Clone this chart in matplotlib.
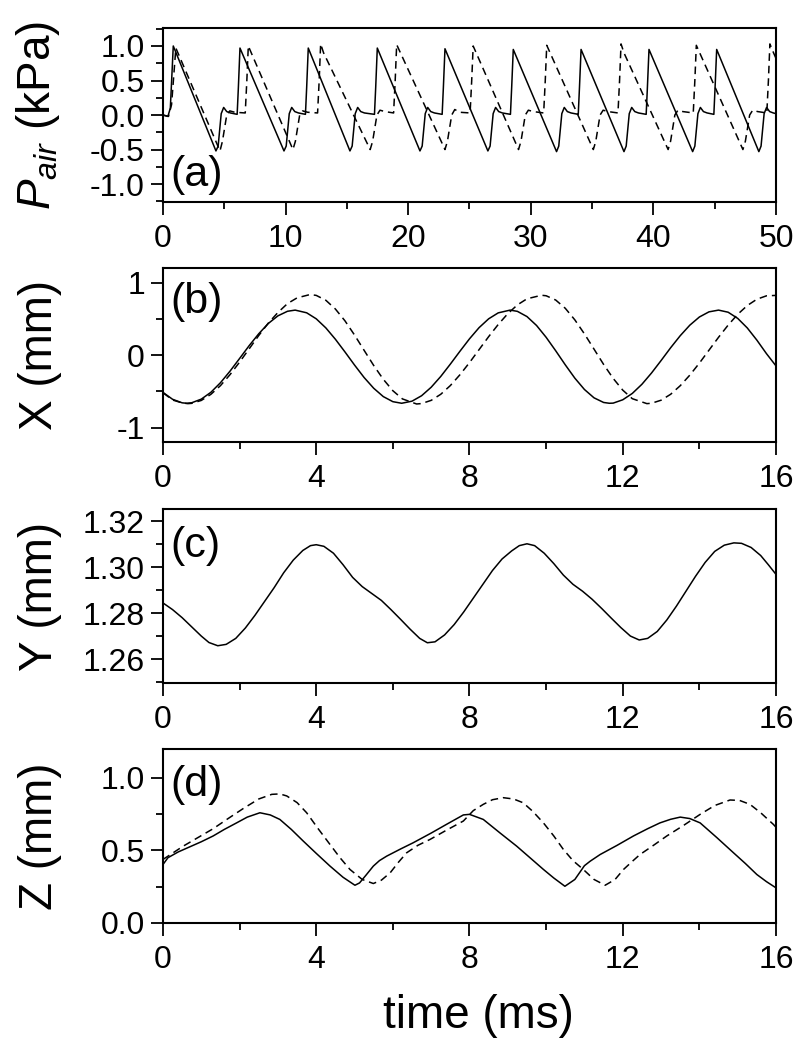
import numpy as np
import matplotlib
matplotlib.use("Agg")
import matplotlib.pyplot as plt
from matplotlib.ticker import MultipleLocator

plt.rcParams['font.family'] = ['Liberation Sans', 'DejaVu Sans']
plt.rcParams['mathtext.fontset'] = 'custom'
plt.rcParams['mathtext.rm'] = 'Liberation Sans'
plt.rcParams['mathtext.it'] = 'Liberation Sans:italic'

# ---- panel (a): air pressure, 0-50 ms ----
pa_t_solid = [0.0, 0.4, 0.6, 0.84,
              4.32, 4.50, 4.75, 4.95, 5.20, 5.50, 6.05, 6.15, 6.28,
              9.87, 10.05, 10.30, 10.50, 10.75, 11.05, 11.62, 11.72, 11.85,
              15.25, 15.43, 15.68, 15.88, 16.13, 16.43, 17.25, 17.35, 17.48,
              20.96, 21.14, 21.39, 21.59, 21.84, 22.14, 22.77, 22.87, 23.00,
              26.50, 26.68, 26.93, 27.13, 27.38, 27.68, 28.34, 28.44, 28.57,
              32.10, 32.28, 32.53, 32.73, 32.98, 33.28, 33.87, 33.97, 34.10,
              37.60, 37.78, 38.03, 38.23, 38.48, 38.78, 39.41, 39.51, 39.64,
              43.20, 43.38, 43.63, 43.83, 44.08, 44.38, 44.93, 45.03, 45.16,
              48.60, 48.78, 49.03, 49.23, 49.48, 49.78, 50.0]
pa_v_solid = [0.00, -0.02, 0.10, 1.00,
              -0.52, -0.45, 0.02, 0.11, 0.05, 0.03, 0.01, 0.40, 0.97,
              -0.52, -0.45, 0.02, 0.11, 0.05, 0.03, 0.01, 0.40, 0.97,
              -0.52, -0.45, 0.02, 0.11, 0.05, 0.03, 0.01, 0.40, 0.97,
              -0.52, -0.45, 0.02, 0.11, 0.05, 0.03, 0.01, 0.40, 0.96,
              -0.52, -0.45, 0.02, 0.11, 0.05, 0.03, 0.01, 0.40, 0.95,
              -0.53, -0.45, 0.02, 0.11, 0.05, 0.03, 0.01, 0.40, 0.95,
              -0.53, -0.45, 0.02, 0.11, 0.05, 0.03, 0.01, 0.40, 0.95,
              -0.53, -0.45, 0.02, 0.11, 0.05, 0.03, 0.01, 0.40, 0.95,
              -0.53, -0.45, 0.02, 0.11, 0.05, 0.03, 0.02]

pa_t_dash = [0.0, 0.45, 0.7, 1.05,
             4.65, 4.85, 5.20, 5.45, 5.85, 6.71, 6.84, 6.96,
             10.60, 10.80, 11.15, 11.40, 11.80, 12.61, 12.74, 12.86, 13.10,
             16.90, 17.10, 17.45, 17.70, 18.10, 18.81, 18.94, 19.06,
             23.00, 23.20, 23.55, 23.80, 24.20, 25.05, 25.18, 25.30,
             29.00, 29.20, 29.55, 29.80, 30.20, 31.05, 31.18, 31.30,
             35.10, 35.30, 35.65, 35.90, 36.30, 37.11, 37.24, 37.36, 37.60,
             41.20, 41.40, 41.75, 42.00, 42.40, 43.25, 43.38, 43.50,
             47.30, 47.50, 47.85, 48.10, 48.50, 49.25, 49.38, 49.50, 49.80, 50.0]
pa_v_dash = [0.00, -0.02, 0.15, 0.97,
             -0.52, -0.38, 0.00, 0.06, 0.04, 0.03, 0.50, 1.00,
             -0.50, -0.38, 0.00, 0.06, 0.04, 0.03, 0.50, 1.03, 0.90,
             -0.50, -0.38, 0.00, 0.07, 0.05, 0.03, 0.50, 1.02,
             -0.50, -0.38, 0.00, 0.08, 0.04, 0.03, 0.50, 1.00,
             -0.50, -0.38, 0.00, 0.07, 0.05, 0.03, 0.50, 1.01,
             -0.50, -0.38, 0.00, 0.07, 0.05, 0.03, 0.50, 1.03, 0.90,
             -0.50, -0.38, 0.00, 0.07, 0.05, 0.03, 0.50, 1.01,
             -0.50, -0.38, 0.00, 0.07, 0.05, 0.03, 0.50, 1.03, 0.90, 0.82]

# ---- panel (b): X displacement, 0-16 ms ----
x_t_solid = [0.0, 0.25, 0.5, 0.62, 0.75, 1.0, 1.25, 1.5, 1.75, 2.0, 2.25, 2.5, 2.75,
             3.0, 3.25, 3.45, 3.75, 4.0, 4.25, 4.5, 4.75, 5.0, 5.25, 5.5, 5.75,
             6.0, 6.23, 6.5, 6.75, 7.0, 7.25, 7.5, 7.75, 8.0, 8.25, 8.5, 8.75,
             9.06, 9.25, 9.5, 9.75, 10.0, 10.25, 10.5, 10.75, 11.0, 11.25, 11.5,
             11.65, 11.75, 12.0, 12.25, 12.5, 12.75, 13.0, 13.25, 13.5, 13.75,
             14.0, 14.25, 14.5, 14.75, 15.0, 15.25, 15.5, 15.75, 16.0]
x_v_solid = [-0.515, -0.610, -0.659, -0.665, -0.658, -0.608, -0.514, -0.382, -0.222,
             -0.047, 0.130, 0.294, 0.436, 0.541, 0.604, 0.620, 0.583, 0.500, 0.375,
             0.218, 0.043, -0.138, -0.310, -0.458, -0.573, -0.643, -0.665, -0.636,
             -0.561, -0.444, -0.295, -0.125, 0.052, 0.224, 0.378, 0.500, 0.582,
             0.620, 0.603, 0.531, 0.408, 0.245, 0.059, -0.135, -0.319, -0.475,
             -0.590, -0.654, -0.665, -0.663, -0.617, -0.529, -0.403, -0.248,
             -0.076, 0.101, 0.267, 0.412, 0.525, 0.596, 0.620, 0.591, 0.506,
             0.374, 0.206, 0.020, -0.150]

x_t_dash = [0.0, 0.25, 0.5, 0.65, 0.75, 1.0, 1.25, 1.5, 1.75, 2.0, 2.25, 2.5, 2.75,
            3.0, 3.25, 3.5, 3.84, 4.0, 4.25, 4.5, 4.75, 5.0, 5.25, 5.5, 5.75,
            6.0, 6.25, 6.62, 6.75, 7.0, 7.25, 7.5, 7.75, 8.0, 8.25, 8.5, 8.75,
            9.0, 9.25, 9.5, 9.88, 10.0, 10.25, 10.5, 10.75, 11.0, 11.25, 11.5,
            11.75, 12.0, 12.25, 12.63, 12.75, 13.0, 13.25, 13.5, 13.75, 14.0,
            14.25, 14.5, 14.75, 15.0, 15.25, 15.5, 15.75, 16.0]
x_v_dash = [-0.52, -0.62, -0.66, -0.67, -0.666, -0.626, -0.542, -0.422, -0.270,
            -0.097, 0.086, 0.270, 0.441, 0.587, 0.710, 0.789, 0.835, 0.823, 0.756,
            0.635, 0.472, 0.276, 0.065, -0.144, -0.334, -0.492, -0.605, -0.675,
            -0.669, -0.625, -0.541, -0.421, -0.272, -0.104, 0.075, 0.254, 0.422,
            0.571, 0.692, 0.776, 0.825, 0.818, 0.759, 0.645, 0.485, 0.292, 0.082,
            -0.129, -0.322, -0.484, -0.602, -0.670, -0.665, -0.623, -0.541,
            -0.423, -0.277, -0.111, 0.067, 0.245, 0.413, 0.562, 0.683, 0.770,
            0.817, 0.823]

# ---- panel (c): Y displacement ----
y_t = [0.0, 0.25, 0.5, 0.75, 1.0, 1.2, 1.43, 1.65, 1.9, 2.15, 2.4, 2.65, 2.9, 3.15,
       3.4, 3.65, 3.85, 4.0, 4.2, 4.45, 4.7, 4.95, 5.2, 5.45, 5.7, 5.95, 6.2, 6.45,
       6.7, 6.9, 7.1, 7.35, 7.6, 7.85, 8.1, 8.35, 8.6, 8.85, 9.1, 9.3, 9.5, 9.7,
       9.95, 10.2, 10.45, 10.7, 10.95, 11.2, 11.45, 11.7, 11.95, 12.2, 12.43,
       12.65, 12.9, 13.15, 13.4, 13.65, 13.9, 14.15, 14.4, 14.65, 14.9, 15.1,
       15.35, 15.6, 15.8, 16.0]
y_v = [1.2844, 1.2815, 1.2780, 1.2740, 1.2700, 1.2672, 1.2658, 1.2664, 1.2690,
       1.2735, 1.2790, 1.2850, 1.2910, 1.2975, 1.3030, 1.3072, 1.3093, 1.3097,
       1.3090, 1.3060, 1.3010, 1.2955, 1.2915, 1.2885, 1.2855, 1.2815, 1.2773,
       1.2730, 1.2690, 1.2671, 1.2675, 1.2705, 1.2750, 1.2805, 1.2865, 1.2925,
       1.2985, 1.3035, 1.3070, 1.3093, 1.3101, 1.3093, 1.3060, 1.3015, 1.2965,
       1.2925, 1.2895, 1.2860, 1.2820, 1.2778, 1.2737, 1.2700, 1.2683, 1.2690,
       1.2720, 1.2770, 1.2830, 1.2895, 1.2960, 1.3020, 1.3068, 1.3095, 1.3105,
       1.3103, 1.3085, 1.3050, 1.3010, 1.2968]

# ---- panel (d): Z displacement ----
z_t_solid = [0.0, 0.13, 0.4, 0.7, 1.0, 1.31, 1.6, 1.92, 2.2, 2.53, 2.8, 3.05, 3.35,
             3.66, 4.0, 4.36, 4.7, 5.01, 5.13, 5.3, 5.49, 5.65, 5.84, 6.2, 6.53,
             7.0, 7.4, 7.84, 8.0, 8.36, 8.8, 9.23, 9.6, 9.93, 10.2, 10.49, 10.75,
             11.0, 11.15, 11.41, 11.85, 12.28, 12.65, 12.97, 13.25, 13.5, 13.75,
             14.02, 14.45, 14.89, 15.2, 15.5, 15.75, 16.0]
z_v_solid = [0.403, 0.45, 0.49, 0.525, 0.56, 0.60, 0.645, 0.69, 0.73, 0.76,
             0.745, 0.714, 0.645, 0.565, 0.48, 0.392, 0.315, 0.26, 0.276, 0.33,
             0.392, 0.43, 0.461, 0.51, 0.553, 0.62, 0.68, 0.745, 0.749, 0.714,
             0.62, 0.53, 0.445, 0.369, 0.31, 0.253, 0.30, 0.395, 0.426, 0.472,
             0.535, 0.60, 0.65, 0.69, 0.715, 0.73, 0.72, 0.69, 0.59, 0.484,
             0.41, 0.334, 0.285, 0.242]

z_t_dash = [0.0, 0.53, 1.31, 1.7, 2.1, 2.5, 2.84, 3.05, 3.23, 3.5, 3.75, 4.05, 4.36,
            4.62, 4.88, 5.2, 5.49, 5.7, 5.93, 6.15, 6.36, 6.65, 6.97, 7.4, 7.84,
            8.1, 8.36, 8.6, 8.88, 9.15, 9.4, 9.65, 9.93, 10.2, 10.45, 10.7, 10.97,
            11.25, 11.54, 11.8, 12.02, 12.25, 12.45, 12.8, 13.15, 13.6, 14.02,
            14.4, 14.8, 15.05, 15.32, 15.6, 15.93, 16.0]
z_v_dash = [0.438, 0.53, 0.65, 0.72, 0.79, 0.855, 0.887, 0.89, 0.876, 0.83,
            0.76, 0.65, 0.541, 0.45, 0.369, 0.30, 0.272, 0.295, 0.346, 0.42,
            0.484, 0.535, 0.576, 0.64, 0.703, 0.775, 0.818, 0.85, 0.864, 0.855,
            0.829, 0.77, 0.69, 0.60, 0.507, 0.43, 0.369, 0.30, 0.26, 0.30, 0.369,
            0.425, 0.472, 0.535, 0.60, 0.675, 0.749, 0.81, 0.848, 0.845, 0.818,
            0.76, 0.68, 0.66]

fig = plt.figure(figsize=(8.06, 10.5), dpi=100)
left, width, height = 0.2022, 0.7606, 0.1657
bottoms = [0.8076, 0.579, 0.3495, 0.121]
axes = [fig.add_axes([left, b, width, height]) for b in bottoms]
ax_a, ax_b, ax_c, ax_d = axes

lw = 1.1
dash = (5.0, 3.2)

ax_a.plot(pa_t_solid, pa_v_solid, color='black', lw=lw)
ax_a.plot(pa_t_dash, pa_v_dash, color='black', lw=lw, dashes=dash)
ax_a.set_xlim(0, 50)
ax_a.set_ylim(-1.26, 1.26)
ax_a.xaxis.set_major_locator(MultipleLocator(10))
ax_a.xaxis.set_minor_locator(MultipleLocator(5))
ax_a.yaxis.set_major_locator(MultipleLocator(0.5))
ax_a.yaxis.set_minor_locator(MultipleLocator(0.25))
ax_a.yaxis.set_major_formatter(lambda v, p: '%.1f' % v)
ax_a.set_ylabel(r'$P_{air}$ (kPa)')

ax_b.plot(x_t_solid, x_v_solid, color='black', lw=lw)
ax_b.plot(x_t_dash, x_v_dash, color='black', lw=lw, dashes=dash)
ax_b.set_ylim(-1.2, 1.2)
ax_b.yaxis.set_major_locator(MultipleLocator(1))
ax_b.yaxis.set_minor_locator(MultipleLocator(0.5))
ax_b.yaxis.set_major_formatter(lambda v, p: '%d' % round(v))
ax_b.set_ylabel('X (mm)')

ax_c.plot(y_t, y_v, color='black', lw=lw)
ax_c.set_ylim(1.2496, 1.3252)
ax_c.yaxis.set_major_locator(MultipleLocator(0.02))
ax_c.yaxis.set_minor_locator(MultipleLocator(0.01))
ax_c.yaxis.set_major_formatter(lambda v, p: '%.2f' % v)
ax_c.set_ylabel('Y (mm)')

ax_d.plot(z_t_solid, z_v_solid, color='black', lw=lw)
ax_d.plot(z_t_dash, z_v_dash, color='black', lw=lw, dashes=dash)
ax_d.set_ylim(0, 1.2)
ax_d.yaxis.set_major_locator(MultipleLocator(0.5))
ax_d.yaxis.set_minor_locator(MultipleLocator(0.25))
ax_d.yaxis.set_major_formatter(lambda v, p: '%.1f' % v)
ax_d.set_ylabel('Z (mm)')
ax_d.set_xlabel('time (ms)', fontsize=33)
ax_d.xaxis.set_label_coords(0.515, -0.41)

for ax in (ax_b, ax_c, ax_d):
    ax.set_xlim(0, 16)
    ax.xaxis.set_major_locator(MultipleLocator(4))
    ax.xaxis.set_minor_locator(MultipleLocator(2))

for ax in axes:
    ax.tick_params(which='both', direction='out', top=False, right=False,
                   width=1.3, labelsize=23)
    ax.tick_params(which='major', length=9, pad=4)
    ax.tick_params(which='minor', length=5)
    ax.tick_params(axis='x', which='major', pad=7)
    for s in ax.spines.values():
        s.set_linewidth(1.5)
    ax.yaxis.label.set_size(33)
    ax.yaxis.set_label_coords(-0.165, 0.5)

ax_a.text(0.012, 0.27, '(a)', transform=ax_a.transAxes, fontsize=31, va='top', ha='left')
ax_b.text(0.012, 0.92, '(b)', transform=ax_b.transAxes, fontsize=31, va='top', ha='left')
ax_c.text(0.012, 0.90, '(c)', transform=ax_c.transAxes, fontsize=31, va='top', ha='left')
ax_d.text(0.012, 0.91, '(d)', transform=ax_d.transAxes, fontsize=31, va='top', ha='left')

fig.savefig('out.png', dpi=100)
